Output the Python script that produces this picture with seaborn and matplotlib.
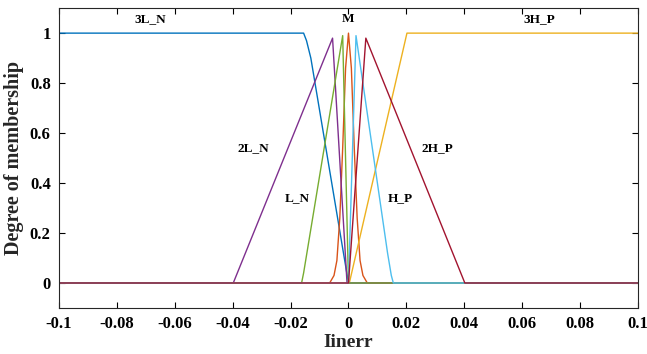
import numpy as np
import pandas as pd
import matplotlib
matplotlib.use("Agg")
import matplotlib.pyplot as plt
import seaborn as sns

# membership functions (x breakpoints, membership values)
names = ["3L_N", "M", "3H_P", "2L_N", "L_N", "H_P", "2H_P"]
colors = ["#0072BD", "#D95319", "#EDB120", "#7E2F8E", "#77AC30", "#4DBEEE", "#A2142F"]

x_3L_N = [-0.1, -0.0155, -0.0145, -0.013, 0.0, 0.1]
y_3L_N = [1.0, 1.0, 0.97, 0.90, 0.0, 0.0]

x_M = [-0.1, -0.0065, -0.005, -0.004, -0.003, -0.002, -0.001, 0.0, 0.001, 0.002, 0.003, 0.004, 0.005, 0.0065, 0.1]
y_M = [0.0, 0.0, 0.03, 0.09, 0.26, 0.54, 0.86, 1.0, 0.86, 0.54, 0.26, 0.09, 0.03, 0.0, 0.0]

x_3H_P = [-0.1, 0.0003, 0.0202, 0.1]
y_3H_P = [0.0, 0.0, 1.0, 1.0]

x_2L_N = [-0.1, -0.0398, -0.0055, -0.0005, 0.1]
y_2L_N = [0.0, 0.0, 0.98, 0.0, 0.0]

x_L_N = [-0.1, -0.0162, -0.0155, -0.002, 0.0, 0.1]
y_L_N = [0.0, 0.0, 0.04, 0.99, 0.0, 0.0]

x_H_P = [-0.1, 0.0, 0.0026, 0.0135, 0.0148, 0.0155, 0.1]
y_H_P = [0.0, 0.0, 0.99, 0.12, 0.03, 0.0, 0.0]

x_2H_P = [-0.1, 0.0, 0.006, 0.0402, 0.1]
y_2H_P = [0.0, 0.0, 0.98, 0.0, 0.0]

xs = [x_3L_N, x_M, x_3H_P, x_2L_N, x_L_N, x_H_P, x_2H_P]
ys = [y_3L_N, y_M, y_3H_P, y_2L_N, y_L_N, y_H_P, y_2H_P]

# label positions
lab_x = [-0.0685, 0.0, 0.066, -0.033, -0.0178, 0.0178, 0.0306]
lab_y = [1.057, 1.057, 1.057, 0.54, 0.34, 0.34, 0.54]

x_ticks = [-0.1, -0.08, -0.06, -0.04, -0.02, 0, 0.02, 0.04, 0.06, 0.08, 0.1]
x_tick_labels = ["-0.1", "-0.08", "-0.06", "-0.04", "-0.02", "0", "0.02", "0.04", "0.06", "0.08", "0.1"]
y_ticks = [0, 0.2, 0.4, 0.6, 0.8, 1]
y_tick_labels = ["0", "0.2", "0.4", "0.6", "0.8", "1"]

rows = []
for n, xv, yv in zip(names, xs, ys):
    for i, (a, b) in enumerate(zip(xv, yv)):
        rows.append({"mf": n, "x": a, "y": b, "order": i})
df = pd.DataFrame(rows)

sns.set_theme(style="white")
plt.rcParams["font.family"] = ["Liberation Serif", "DejaVu Serif"]
plt.rcParams["font.weight"] = "bold"

fig = plt.figure(figsize=(6.47, 3.54), dpi=100)
ax = fig.add_axes([0.0912, 0.13, 0.8948, 0.847])

sns.lineplot(data=df, x="x", y="y", hue="mf", hue_order=names,
             palette=dict(zip(names, colors)), sort=False, estimator=None,
             units="mf", linewidth=1.0, legend=False, ax=ax)

for n, lx, ly in zip(names, lab_x, lab_y):
    ax.text(lx, ly, n, ha="center", va="center", fontsize=9.5, fontweight="bold", color="black")

ax.set_xlim(-0.1, 0.1)
ax.set_ylim(-0.1, 1.1)
ax.set_xticks(x_ticks)
ax.set_xticklabels(x_tick_labels, fontsize=12, fontweight="bold")
ax.set_yticks(y_ticks)
ax.set_yticklabels(y_tick_labels, fontsize=12, fontweight="bold")
ax.set_xlabel("Iinerr", fontsize=14, fontweight="bold", labelpad=1)
ax.set_ylabel("Degree of membership", fontsize=14.5, fontweight="bold", labelpad=4)
ax.tick_params(direction="in", length=4, width=0.8, top=True, right=True,
               bottom=True, left=True, colors="black", pad=6)
for s in ax.spines.values():
    s.set_color("#262626")
    s.set_linewidth(0.8)

fig.savefig("out.png", dpi=100)
